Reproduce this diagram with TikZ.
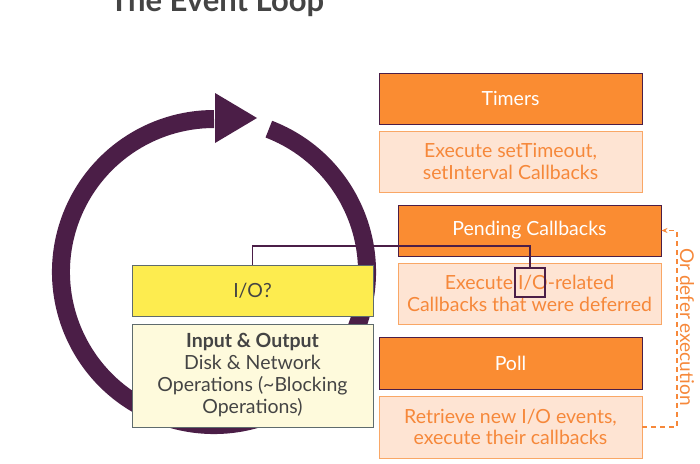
\documentclass[tikz,border=0pt]{standalone}
\usepackage{fontspec}
\setmainfont{Lato}
\usetikzlibrary{arrows.meta}
\definecolor{ringc}{HTML}{4B1E47}
\definecolor{orng}{HTML}{FA8C32}
\definecolor{peach}{HTML}{FEE4D3}
\definecolor{peachb}{HTML}{F9A766}
\definecolor{orngtxt}{HTML}{F6883A}
\definecolor{yel}{HTML}{FDEC4F}
\definecolor{lyel}{HTML}{FEFADC}
\definecolor{grayb}{HTML}{5F6B6D}
\definecolor{txtg}{HTML}{444444}
\tikzset{
  phase/.style={draw=ringc, line width=0.9pt, fill=orng, text=white, minimum width=263pt, minimum height=51pt, inner sep=0pt, font=\fontsize{19.5}{21}\selectfont},
  desc/.style={draw=peachb, line width=0.9pt, fill=peach, text=orngtxt, minimum width=263pt, minimum height=61pt, inner sep=0pt, align=center, font=\fontsize{19.5}{21.5}\selectfont},
  iobox/.style={draw=grayb, line width=0.9pt, fill=yel, text=txtg, minimum width=241pt, minimum height=51pt, inner sep=0pt, font=\fontsize{19.5}{21}\selectfont},
  inbox/.style={draw=grayb, line width=0.9pt, fill=lyel, text=txtg, minimum width=241pt, minimum height=103pt, inner sep=0pt, align=center, font=\fontsize{19.5}{22}\selectfont},
  link/.style={draw=ringc, line width=1.6pt},
  deferline/.style={draw=orngtxt, line width=1.2pt, dashed, dash pattern=on 5pt off 4pt, -{Stealth[length=6pt,width=5pt]}}
}
\begin{document}
\begin{tikzpicture}[x=1pt,y=-1pt]
\useasboundingbox (0,0) rectangle (700,463);
% title
\node[anchor=base, text=txtg, font=\fontsize{31}{33}\selectfont\bfseries, inner sep=0pt] (title) at (217,12) {The Event Loop};
% loop ring
\coordinate (c) at (214,272);
\draw[ringc, line width=18pt] (c) ++(-69:153) arc[start angle=-69, end angle=270, radius=153];
\fill[ringc] (215,93) -- (257,118) -- (215,143) -- cycle;
% phases
\node[phase] (timers) at (510.5,98.5) {Timers};
\node[desc] (timersD) at (510.5,161.5) {Execute setTimeout,\\setInterval Callbacks};
\node[phase] (pending) at (529.5,230.5) {Pending Callbacks};
\node[desc] (pendingD) at (529.5,293.5) {Execute I/O-related\\Callbacks that were deferred};
\node[phase, minimum height=52pt] (poll) at (510.5,363) {Poll};
\node[desc, minimum height=62pt] (pollD) at (510.5,427) {Retrieve new I/O events,\\execute their callbacks};
% I/O boxes
\node[iobox] (io) at (252.5,290.5) {I/O?};
\node[inbox] (input) at (252.5,375.5) {\textbf{Input \& Output}\\Disk \& Network\\Operations (\textasciitilde Blocking\\Operations)};
% marker around I/O
\node[draw=ringc, line width=1.6pt, minimum width=30pt, minimum height=29pt, inner sep=0pt] (ioMark) at (530,282.5) {};
\coordinate (bend) at (530,246);
\draw[link] (io.north) |- (bend) -- (ioMark.north);
% defer
\coordinate (d2) at (677,230.5);
\draw[deferline] (pollD.east) -| (d2) -- (pending.east);
\node[rotate=-90, text=orngtxt, font=\fontsize{19}{20}\selectfont, inner sep=0pt] (defer) at (687,327) {Or defer execution};
\end{tikzpicture}
\end{document}
